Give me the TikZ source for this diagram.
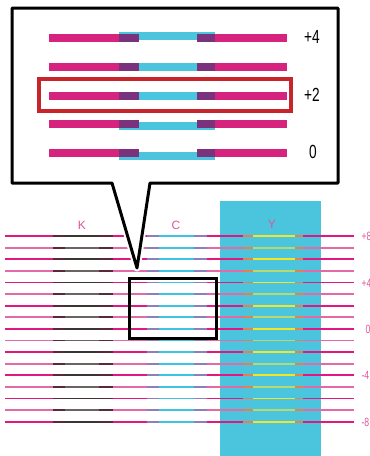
\documentclass[tikz,border=0pt]{standalone}
\usepackage{fontspec}
\setmainfont{Liberation Sans}
\newfontfamily\narrowfont[FakeStretch=0.72]{Liberation Sans}
\definecolor{magbar}{HTML}{D6247E}
\definecolor{cyanp}{HTML}{4BC5DD}
\definecolor{purp}{HTML}{7B327C}
\definecolor{redbox}{HTML}{C8242C}
\definecolor{pinklab}{HTML}{E0559D}
\definecolor{mag0}{HTML}{E0187F}
\definecolor{mag1}{HTML}{E46AA5}
\definecolor{ink0}{HTML}{3A3434}
\definecolor{ink1}{HTML}{6B6262}
\definecolor{cyl}{HTML}{3EC3E0}
\definecolor{yel0}{HTML}{F2E52A}
\definecolor{yel1}{HTML}{B8D870}
\definecolor{kov}{HTML}{5A2838}
\definecolor{cov}{HTML}{8C80BC}
\definecolor{yov}{HTML}{E8804A}

\begin{document}
\begin{tikzpicture}[x=1pt,y=-1pt,
    bar/.style={line width=8pt},
    thin/.style={line width=1.8pt},
    lab/.style={font=\narrowfont\fontsize{19}{19}\selectfont},
    head/.style={text=pinklab,font=\fontsize{12}{12}\selectfont},
    side/.style={text=pinklab,anchor=west,font=\narrowfont\fontsize{12}{12}\selectfont}]
    \useasboundingbox (0,0) rectangle (370,456);
    \fill[cyanp] (220,201) rectangle (321,456);

    % test rows
    \foreach \i [evaluate=\i as \yy using 236+11.6*\i,
                 evaluate=\i as \c using {int(mod(\i,2))}] in {0,...,16} {
        \draw[thin,mag\c] (5,\yy) -- (65,\yy) (99,\yy) -- (159,\yy)
            (194,\yy) -- (253,\yy) (295,\yy) -- (354,\yy);
        \draw[thin,ink\c] (53,\yy) -- (113,\yy);
        \draw[thin,cyl] (147,\yy) -- (207,\yy);
        \draw[thin,yel\c] (243,\yy) -- (303,\yy);
        \draw[thin,kov] (53,\yy) -- (65,\yy) (99,\yy) -- (113,\yy);
        \draw[thin,cov] (147,\yy) -- (159,\yy) (194,\yy) -- (207,\yy);
        \draw[thin,yov] (243,\yy) -- (253,\yy) (295,\yy) -- (303,\yy);
    }
    \draw[line width=3pt] (129.5,278.5) rectangle (216.5,338.5);

    % callout
    \draw[white,fill=white,line width=7pt,line join=round]
        (12,8) -- (338,8) -- (338,183) -- (150,183) -- (137,268)
        -- (112,183) -- (12,183) -- cycle;
    \draw[line width=3pt,line join=round]
        (12,8) -- (338,8) -- (338,183) -- (150,183) -- (137,268)
        -- (112,183) -- (12,183) -- cycle;
    \foreach \yy/\dy in {38/-2,67/0,96/0,124/2,153/3} {
        \draw[bar,cyanp] (119,{\yy+\dy}) -- (215,{\yy+\dy});
        \draw[bar,magbar] (49,\yy) -- (139,\yy) (197,\yy) -- (287,\yy);
        \draw[bar,purp] (119,\yy) -- (139,\yy) (197,\yy) -- (215,\yy);
    }
    \draw[redbox,line width=4pt] (39,79) rectangle (291,111);

    \node[lab] (n4) at (312,37) {+4};
    \node[lab] (n2) at (312,95) {+2};
    \node[lab] (n0) at (313,152) {0};
    \node[head] (k) at (82,225) {K};
    \node[head] (c) at (176,225) {C};
    \node[head] (y) at (272,224) {Y};
    \node[side] (s8) at (358,236) {+8};
    \node[side] (s4) at (358,283) {+4};
    \node[side] (s0) at (362,329) {0};
    \node[side] (m4) at (358,375) {-4};
    \node[side] (m8) at (358,422) {-8};
\end{tikzpicture}
\end{document}
